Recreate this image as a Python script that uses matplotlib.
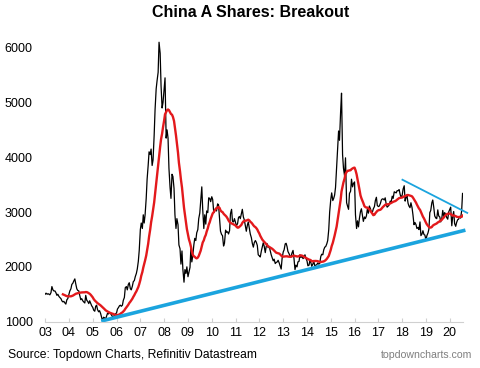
"""China A Shares: Breakout -- Shanghai Composite with 200-day MA and trend lines."""

import matplotlib
matplotlib.use("Agg")
import matplotlib.pyplot as plt
import matplotlib.dates as mdates
import pandas as pd

plt.rcParams["font.family"] = ["Liberation Sans", "DejaVu Sans"]

sse_2003 = [1500, 1520, 1500, 1510, 1500, 1490, 1530, 1640, 1580, 1560, 1560, 1530,
            1480, 1500, 1460, 1440, 1420, 1380, 1360, 1370, 1340, 1320, 1400, 1420]
sse_2004 = [1500, 1560, 1600, 1680, 1700, 1740, 1780, 1690, 1600, 1570, 1560, 1480,
            1400, 1420, 1380, 1360, 1340, 1480, 1390, 1370, 1330, 1380, 1330, 1290]
sse_2005 = [1260, 1210, 1190, 1280, 1300, 1220, 1180, 1200, 1150, 1090, 1010, 1080,
            1070, 1040, 1100, 1150, 1140, 1170, 1150, 1120, 1090, 1100, 1110, 1140]
sse_2006 = [1160, 1230, 1260, 1290, 1300, 1280, 1300, 1390, 1440, 1620, 1640, 1580,
            1680, 1710, 1600, 1580, 1650, 1730, 1750, 1820, 1880, 1960, 2100, 2300]
sse_2007 = [2680, 2800, 2700, 2950, 2800, 2950, 3250, 3600, 3850, 4100, 4050, 4150,
            3850, 3950, 4400, 4870, 5250, 5400, 5550, 6100, 5900, 5300, 4900, 5000]
sse_2008 = [5260, 5450, 4350, 4500, 4350, 3800, 3450, 3250, 3690, 3650, 3430, 2950,
            2700, 2880, 2770, 2400, 2330, 2050, 2290, 1950, 1720, 1950, 1880, 2000]
sse_2009 = [1820, 1900, 1990, 2350, 2090, 2200, 2400, 2520, 2480, 2620, 2680, 2880,
            2980, 3200, 3460, 3050, 2700, 2950, 2780, 3020, 2990, 3260, 3250, 3190]
sse_2010 = [3280, 3230, 2990, 3020, 3070, 3020, 3150, 3130, 2870, 2650, 2590, 2570,
            2380, 2430, 2670, 2630, 2640, 2600, 2660, 2970, 3050, 2830, 2820, 2880]
sse_2011 = [2810, 2750, 2790, 2900, 2920, 2880, 2970, 3050, 2910, 2860, 2740, 2650,
            2760, 2820, 2700, 2600, 2530, 2430, 2360, 2440, 2480, 2450, 2390, 2220]
sse_2012 = [2200, 2180, 2290, 2360, 2440, 2380, 2260, 2370, 2420, 2350, 2370, 2300,
            2220, 2170, 2110, 2140, 2060, 2080, 2090, 2120, 2070, 2020, 1960, 2150]
sse_2013 = [2270, 2310, 2420, 2430, 2370, 2280, 2240, 2200, 2180, 2250, 2300, 2160,
            1950, 2030, 2000, 2090, 2100, 2220, 2170, 2200, 2150, 2170, 2220, 2160]
sse_2014 = [2110, 2020, 2030, 2120, 2080, 2010, 2050, 2100, 2020, 2030, 2040, 2070,
            2050, 2060, 2190, 2230, 2220, 2310, 2360, 2370, 2420, 2480, 2680, 3000]
sse_2015 = [3230, 3350, 3210, 3250, 3310, 3450, 3810, 4130, 4480, 4310, 4830, 5170,
            4050, 3800, 3660, 3990, 3170, 3110, 3050, 3340, 3380, 3600, 3460, 3520]
sse_2016 = [3550, 2950, 2700, 2840, 2730, 2880, 3010, 3060, 2940, 2830, 2910, 2880,
            2930, 3050, 2980, 3110, 3060, 3000, 3000, 3060, 3100, 3210, 3270, 3120]
sse_2017 = [3100, 3110, 3160, 3220, 3240, 3240, 3220, 3260, 3140, 3090, 3110, 3130,
            3200, 3180, 3290, 3250, 3370, 3360, 3350, 3390, 3390, 3410, 3320, 3270]
sse_2018 = [3310, 3420, 3480, 3200, 3270, 3300, 3160, 3110, 3080, 3170, 3080, 2950,
            2770, 2810, 2770, 2700, 2720, 2680, 2820, 2570, 2600, 2660, 2590, 2580]
sse_2019 = [2490, 2570, 2620, 2690, 2990, 3030, 3170, 3220, 3080, 2930, 2890, 2880,
            3040, 2930, 2910, 2820, 2890, 3030, 2910, 2990, 2950, 2900, 2870, 3000]
sse_2020 = [3050, 3090, 2750, 2920, 3010, 2790, 2740, 2810, 2860, 2870, 2920, 2890,
            3020, 3340]

# Hand-drawn trend lines (start / end)
support_dates = ["2005-05-10", "2020-08-28"]
support_values = [1010, 2670]
resist_dates = ["2018-01-05", "2020-09-25"]
resist_values = [3590, 2985]

year_lists = [sse_2003, sse_2004, sse_2005, sse_2006, sse_2007, sse_2008, sse_2009,
              sse_2010, sse_2011, sse_2012, sse_2013, sse_2014, sse_2015, sse_2016,
              sse_2017, sse_2018, sse_2019, sse_2020]
values = [v for year in year_lists for v in year]
dates = pd.date_range("2003-01-01", periods=len(values), freq="SMS")
sse = pd.Series(values, index=dates)
# ~200 trading days is about 19 half-month samples
ma200 = sse.rolling(19).mean()

fig = plt.figure(figsize=(4.8, 3.68), dpi=100)
ax = fig.add_axes([0.094, 0.126, 0.871, 0.789])

ax.plot(sse.index, sse.values, color="black", lw=0.9)
ax.plot(ma200.index, ma200.values, color="#E3191C", lw=1.7)
ax.plot(pd.to_datetime(support_dates), support_values, color="#1BA4DE", lw=2.6,
        solid_capstyle="butt", clip_on=False)
ax.plot(pd.to_datetime(resist_dates), resist_values, color="#1BA4DE", lw=1.3,
        clip_on=False)

ax.set_xlim(pd.Timestamp("2003-01-01"), pd.Timestamp("2020-07-25"))
ax.set_ylim(1000, 6300)
ax.set_yticks([1000, 2000, 3000, 4000, 5000, 6000])

ax.xaxis.set_major_locator(mdates.YearLocator())
ax.xaxis.set_major_formatter(mdates.DateFormatter("%y"))

for side in ["top", "right", "left"]:
    ax.spines[side].set_visible(False)
ax.spines["bottom"].set_color("#D0D0D0")
ax.tick_params(axis="x", direction="in", length=3, color="#D0D0D0",
               labelsize=9, pad=4)
ax.tick_params(axis="y", length=0, labelsize=9, pad=9)

fig.text(0.523, 0.967, "China A Shares: Breakout", ha="center", va="center",
         fontsize=11.5, fontweight="bold")
fig.text(0.017, 0.036, "Source: Topdown Charts, Refinitiv Datastream",
         ha="left", va="center", fontsize=8.7)
fig.text(0.983, 0.036, "topdowncharts.com", ha="right", va="center",
         fontsize=7.6, color="#7F7F7F")

fig.savefig("out.png", dpi=100)
